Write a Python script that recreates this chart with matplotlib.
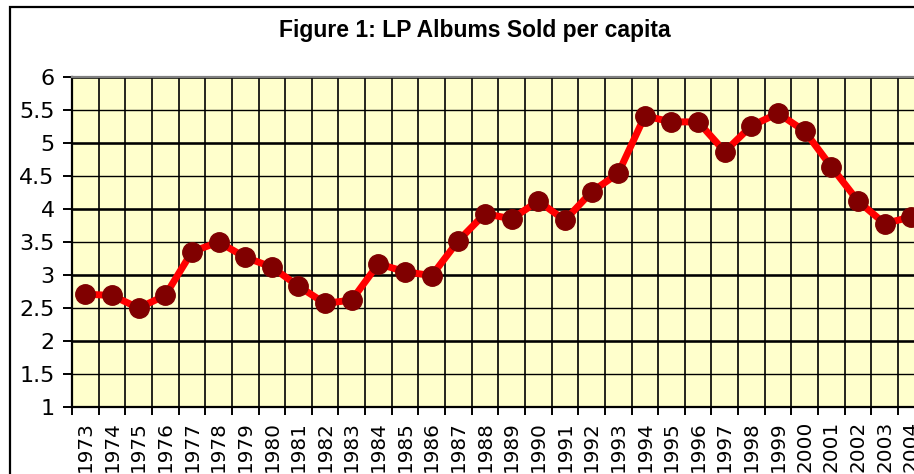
import matplotlib.pyplot as plt
from matplotlib.patches import Rectangle
import numpy as np

years = [str(y) for y in range(1973, 2005)]
albums_per_capita = [2.71, 2.69, 2.50, 2.69, 3.35, 3.50, 3.27, 3.12, 2.83, 2.57,
                     2.62, 3.17, 3.05, 2.99, 3.52, 3.93, 3.85, 4.12, 3.83, 4.26,
                     4.54, 5.41, 5.32, 5.32, 4.87, 5.26, 5.45, 5.18, 4.64, 4.12,
                     3.78, 3.88]
y_ticks = [1, 1.5, 2, 2.5, 3, 3.5, 4, 4.5, 5, 5.5, 6]
y_tick_labels = ['1', '1.5', '2', '2.5', '3', '3.5', '4', '4.5', '5', '5.5', '6']

W, H = 914, 474
fig = plt.figure(figsize=(W / 100, H / 100), dpi=100)

# outer chart border (right and bottom run off the picture)
fig.patches.append(Rectangle((10 / W, -0.1), 1.2, (H - 7) / H + 0.1,
                             transform=fig.transFigure, fill=False,
                             edgecolor='black', linewidth=1.6))

fig.text(475 / W, 1 - 31 / H, 'Figure 1: LP Albums Sold per capita',
         ha='center', va='center', fontsize=16.5, fontweight='bold',
         family='Liberation Sans')

ax = fig.add_axes([72 / W, 67 / H, 852.6 / W, 330 / H])
ax.set_facecolor('#FFFFCC')

x = np.arange(len(years))
ax.set_xlim(-0.5, len(years) - 0.5)
ax.set_ylim(1, 6)

# gridlines on category boundaries, labels at the centres
ax.set_xticks(np.arange(len(years) + 1) - 0.5)
ax.set_xticklabels([])
ax.set_xticks(x, minor=True)
ax.set_xticklabels(years, minor=True, rotation=90, fontsize=14.4,
                   family='DejaVu Sans', va='top')
ax.tick_params(axis='x', which='major', length=6, width=1.4, direction='out')
ax.tick_params(axis='x', which='minor', length=0, pad=10)
ax.xaxis.grid(True, which='major', color='black', linewidth=1.2)

ax.set_yticks(y_ticks)
ax.set_yticklabels(y_tick_labels, fontsize=16, family='DejaVu Sans')
ax.tick_params(axis='y', length=6.5, width=1.4, direction='out', pad=6)
ax.yaxis.grid(True, color='black', linewidth=1.0)
for v in y_ticks[::2]:
    ax.axhline(v, color='black', linewidth=1.8, zorder=1)
ax.set_axisbelow(True)

for side in ['left', 'bottom']:
    ax.spines[side].set_linewidth(1.6)
ax.spines['top'].set_color('#808080')
ax.spines['top'].set_linewidth(1.6)
ax.spines['right'].set_visible(False)

ax.plot(x, albums_per_capita, color='#FF0000', linewidth=5, marker='o',
        markersize=14, markerfacecolor='#800000', markeredgecolor='#800000',
        zorder=3, clip_on=False)

fig.savefig('out.png', dpi=100)
